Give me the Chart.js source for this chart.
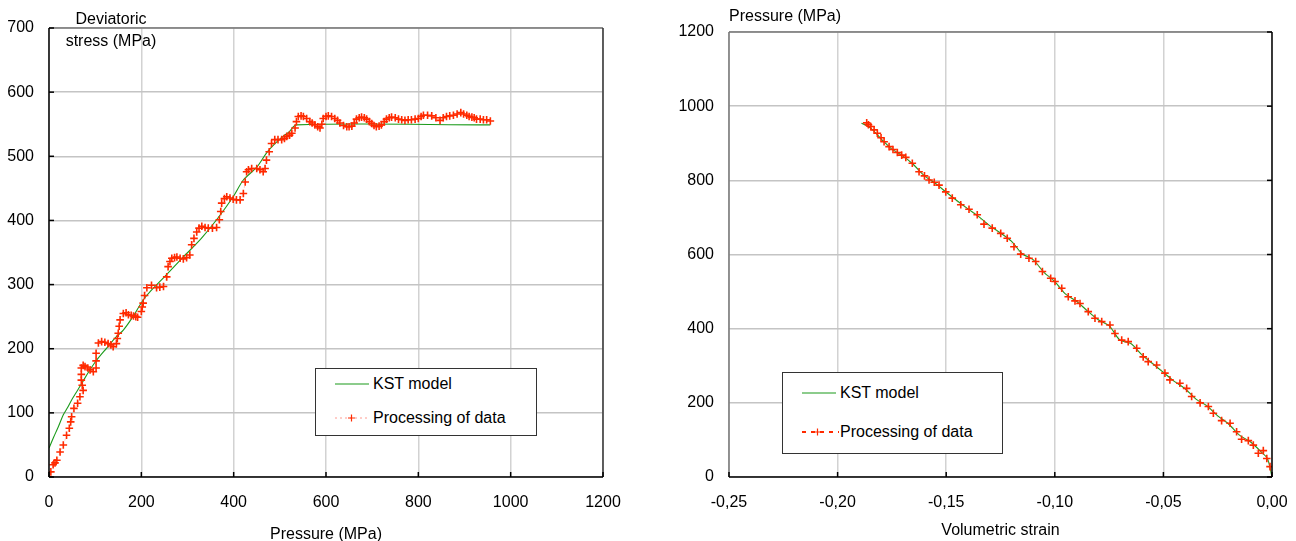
<!DOCTYPE html>
<html>
<head>
<meta charset="utf-8">
<script src="https://cdn.jsdelivr.net/npm/chart.js@4/dist/chart.umd.min.js"></script>
<style>
  body { margin:0; background:#fff; width:1296px; height:541px; position:relative; overflow:hidden;
         font-family:"Liberation Sans", Arial, sans-serif; }
  canvas { position:absolute; top:0; }
  .lab { position:absolute; font-size:16px; line-height:1; color:#000; white-space:nowrap; transform:translate(0,-50%); }
  .mid { transform:translate(-50%,-50%); }
  .legend { position:absolute; border:1.5px solid #333; background:#fff; box-sizing:border-box; }
  .key { position:absolute; }
</style>
</head>
<body>
<canvas id="left" width="650" height="541" style="left:0"></canvas>
<canvas id="right" width="646" height="541" style="left:650px"></canvas>

<div class="lab mid" style="left:111px;top:19px">Deviatoric</div>
<div class="lab mid" style="left:111px;top:41px">stress (MPa)</div>
<div class="lab" style="left:729px;top:16px">Pressure (MPa)</div>

<div class="legend" style="left:315px;top:368px;width:222px;height:68px"></div>
<svg class="key" style="left:333px;top:376px" width="38" height="50">
  <line x1="2" y1="8" x2="36" y2="8" stroke="#1a9a1a" stroke-width="1.2"/>
  <line x1="2" y1="42" x2="36" y2="42" stroke="#ff9a90" stroke-width="1" stroke-dasharray="2,3"/>
  <path d="M15 42 H22 M18.5 38.5 V45.5" stroke="#ff2a00" stroke-width="1.2"/>
</svg>
<div class="lab" style="left:373px;top:384px">KST model</div>
<div class="lab" style="left:373px;top:418px">Processing of data</div>

<div class="legend" style="left:782px;top:372px;width:221px;height:82px"></div>
<svg class="key" style="left:800px;top:384px" width="42" height="56">
  <line x1="2" y1="9" x2="36" y2="9" stroke="#1a9a1a" stroke-width="1.2"/>
  <line x1="2" y1="48" x2="39" y2="48" stroke="#ff2a00" stroke-width="2" stroke-dasharray="4,5"/>
  <path d="M14 48 H21 M17.5 44.5 V51.5" stroke="#ff2a00" stroke-width="1.2"/>
</svg>
<div class="lab" style="left:840px;top:393px">KST model</div>
<div class="lab" style="left:840px;top:432px">Processing of data</div>

<script>
// left chart: deviatoric stress vs pressure
var dataP = [0,4,9,13,17,24,31,38,44,47,49,54,62,67,74,72,70,70,70,74,78,84,89,96,102,102,102,107,114,121,128,134,139,146,148,150,152,154,161,167,172,178,183,188,192,200,202,204,207,212,222,233,240,248,255,258,262,266,272,277,284,291,298,305,309,314,320,325,331,338,345,354,363,369,372,374,380,385,392,399,406,414,421,425,428,432,439,450,457,464,468,471,477,482,489,496,504,510,515,521,526,533,536,540,546,551,558,565,570,576,582,587,591,594,600,605,612,619,625,630,638,645,650,656,661,666,672,677,683,688,694,699,704,709,715,720,726,731,737,742,750,757,764,771,778,785,793,800,806,811,820,829,838,847,854,861,868,876,884,892,898,905,910,916,921,926,934,941,948,956];
var dataQ = [0,8,19,22,26,39,50,65,76,86,94,107,115,125,135,143,151,160,170,174,172,170,167,164,170,181,193,209,211,210,208,206,203,208,216,224,235,245,255,256,253,252,251,250,249,258,265,271,283,295,299,295,296,297,312,328,336,341,342,343,341,340,342,346,362,372,382,388,391,389,388,388,389,401,414,427,434,437,435,433,432,432,442,460,476,479,481,481,479,476,481,494,507,520,526,526,526,528,531,533,536,544,554,562,563,562,559,554,552,549,546,544,550,559,562,563,562,559,556,552,548,546,546,547,552,558,560,561,560,558,554,551,548,546,547,549,554,558,560,561,560,558,557,556,557,557,558,559,562,564,564,563,560,556,560,562,563,564,566,568,566,564,562,561,560,558,558,557,557,555];
var modelP = [0,10,20,31,40,49,60,71,85,103,125,145,161,180,204,219,250,291,330,363,399,421,450,471,490,507,520,536,956];
var modelQ = [45,62,78,97,108,120,133,146,163,182,201,218,229,248,276,289,312,343,372,401,437,463,483,505,520,531,538,549,549];

// right chart: pressure vs volumetric strain
var dataEv = [-0.1866,-0.1858,-0.1847,-0.1832,-0.1817,-0.1800,-0.1786,-0.1763,-0.1745,-0.1725,-0.1705,-0.1686,-0.1656,-0.1625,-0.1600,-0.1579,-0.1555,-0.1533,-0.1502,-0.1472,-0.1433,-0.1395,-0.1357,-0.1326,-0.1288,-0.1249,-0.1219,-0.1188,-0.1157,-0.1119,-0.1088,-0.1057,-0.1019,-0.0999,-0.0968,-0.0938,-0.0907,-0.0884,-0.0846,-0.0815,-0.0784,-0.0746,-0.0723,-0.0692,-0.0662,-0.0623,-0.0593,-0.0570,-0.0531,-0.0493,-0.0470,-0.0424,-0.0393,-0.0370,-0.0331,-0.0293,-0.0270,-0.0232,-0.0193,-0.0163,-0.0140,-0.0109,-0.0086,-0.0063,-0.0040,-0.0024,-0.0009,0];
var dataPv = [955,950,945,936,927,915,904,891,883,875,868,862,846,823,812,801,795,787,769,752,734,722,707,682,671,657,644,621,601,590,581,554,536,527,509,486,475,468,446,428,419,410,387,369,365,347,324,311,302,280,262,253,239,217,200,190,172,152,145,122,102,98,86,64,71,50,28,0];
var modelEv = [-0.189,-0.185,-0.180,-0.175,-0.170,-0.165,-0.160,-0.155,-0.150,-0.145,-0.140,-0.135,-0.130,-0.125,-0.120,-0.115,-0.110,-0.105,-0.100,-0.095,-0.090,-0.085,-0.080,-0.075,-0.070,-0.065,-0.060,-0.055,-0.050,-0.045,-0.040,-0.035,-0.030,-0.025,-0.020,-0.015,-0.010,-0.005,-0.002,0];
var modelPv = [954,942,912,884,866,842,812,792,768,745,723,702,678,658,636,602,586,552,527,493,474,448,424,408,369,360,330,306,282,258,238,210,192,165,143,113,95,68,48,0];

function pts(xs, ys) { return xs.map(function (x, i) { return {x: x, y: ys[i]}; }); }

var RED = '#ff2a00', GREEN = '#1a9a1a';
var FONT = {family: '"Liberation Sans", Arial, sans-serif', size: 16};

// frame round the plot + inward tick marks, axis on the side where the value 0 sits
var frame = {
  id: 'frame',
  afterDraw: function (chart, args, o) {
    var ctx = chart.ctx, a = chart.chartArea, sx = chart.scales.x, sy = chart.scales.y;
    ctx.save();
    ctx.lineWidth = 1.5;
    function seg(x1, y1, x2, y2, c) { ctx.strokeStyle = c; ctx.beginPath(); ctx.moveTo(x1, y1); ctx.lineTo(x2, y2); ctx.stroke(); }
    seg(a.left, a.top, a.right, a.top, '#777');
    var axX = o.yAxisRight ? a.right : a.left;
    var othX = o.yAxisRight ? a.left : a.right;
    seg(othX, a.top, othX, a.bottom, o.yAxisRight ? '#777' : '#333');
    seg(a.left, a.bottom, a.right, a.bottom, '#000');
    seg(axX, a.top, axX, a.bottom, '#000');
    ctx.strokeStyle = '#000';
    sx.ticks.forEach(function (t) {
      var px = sx.getPixelForValue(t.value);
      ctx.beginPath(); ctx.moveTo(px, a.bottom); ctx.lineTo(px, a.bottom - 5); ctx.stroke();
    });
    var d = o.yAxisRight ? -5 : 5;
    sy.ticks.forEach(function (t) {
      var py = sy.getPixelForValue(t.value);
      ctx.beginPath(); ctx.moveTo(axX, py); ctx.lineTo(axX + d, py); ctx.stroke();
    });
    ctx.restore();
  }
};

function makeChart(id, cfg) {
  return new Chart(id, {
    type: 'scatter',
    data: {
      datasets: [{
        data: cfg.data,
        showLine: true,
        borderColor: 'rgba(255,120,100,0.35)',
        borderWidth: 1,
        borderDash: [2, 3],
        pointStyle: 'cross',
        pointRadius: 3.8,
        pointBorderWidth: 1.6,
        pointBorderColor: RED,
        pointBackgroundColor: RED
      }, {
        data: cfg.model,
        showLine: true,
        borderColor: GREEN,
        borderWidth: 1.1,
        pointRadius: 0,
        tension: 0.3
      }]
    },
    options: {
      responsive: false,
      animation: false,
      events: [],
      layout: {padding: cfg.padding},
      plugins: {legend: {display: false}, tooltip: {enabled: false}, frame: {yAxisRight: cfg.yAxisRight}},
      scales: {
        x: {
          type: 'linear', min: cfg.xMin, max: cfg.xMax,
          border: {display: false},
          grid: {color: '#d2d2d2', lineWidth: 1.5, drawTicks: false},
          ticks: {stepSize: cfg.xStep, padding: 16, color: '#000', font: FONT, maxRotation: 0,
                  callback: cfg.xFmt},
          title: {display: true, text: cfg.xTitle, color: '#000', font: FONT, padding: {top: 0, bottom: cfg.titlePad}},
          afterFit: function (s) { s.height = 64; s.paddingLeft = 0; s.paddingRight = 0; }
        },
        y: {
          min: 0, max: cfg.yMax,
          border: {display: false},
          grid: {color: '#c4c4c4', lineWidth: 1.5, drawTicks: false},
          ticks: {stepSize: cfg.yStep, padding: 15, color: '#000', font: FONT,
                  callback: function (v) { return String(v); }},
          afterFit: function (s) { s.width = cfg.yWidth; s.paddingTop = 0; s.paddingBottom = 0; }
        }
      }
    },
    plugins: [frame]
  });
}

makeChart('left', {
  data: pts(dataP, dataQ), model: pts(modelP, modelQ),
  padding: {top: 28, right: 47, left: 0, bottom: 0},
  xMin: 0, xMax: 1200, xStep: 200, yMax: 700, yStep: 100, yWidth: 49,
  xTitle: 'Pressure (MPa)', titlePad: -3, yAxisRight: false,
  xFmt: function (v) { return String(v); }
});

makeChart('right', {
  data: pts(dataEv, dataPv), model: pts(modelEv, modelPv),
  padding: {top: 32, right: 24, left: 0, bottom: 0},
  xMin: -0.25, xMax: 0, xStep: 0.05, yMax: 1200, yStep: 200, yWidth: 79,
  xTitle: 'Volumetric strain', titlePad: 1, yAxisRight: true,
  xFmt: function (v) { if (Math.abs(v) < 1e-9) v = 0; return v.toFixed(2).replace('.', ','); }
});
</script>
</body>
</html>
